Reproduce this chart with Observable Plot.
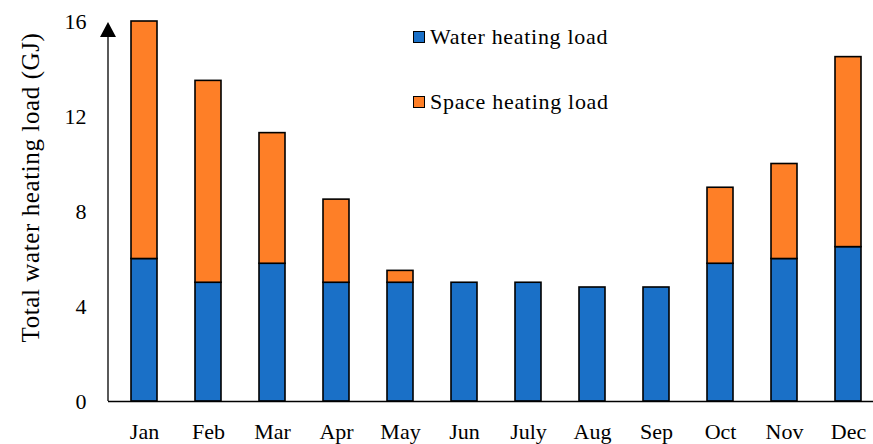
<!DOCTYPE html>
<html>
<head>
<meta charset="utf-8">
<script src="https://cdn.jsdelivr.net/npm/d3@7"></script>
<script src="https://cdn.jsdelivr.net/npm/@observablehq/plot@0.6"></script>
<style>
  body { margin: 0; background: #fff; }
  #wrap { position: relative; width: 873px; height: 444px; font-family: "Liberation Serif", serif; }
  .legend { position: absolute; left: 413px; font-size: 22px; letter-spacing: 0.7px; display: flex; align-items: center; color: #000; }
  .sw { width: 10px; height: 10px; border: 1.6px solid #000; margin-right: 5px; }
</style>
</head>
<body>
<div id="wrap"></div>
<script>
const months = ["Jan","Feb","Mar","Apr","May","Jun","July","Aug","Sep","Oct","Nov","Dec"];
const waterLoad = [6, 5, 5.8, 5, 5, 5, 5, 4.8, 4.8, 5.8, 6, 6.5];
const spaceLoad = [10, 8.5, 5.5, 3.5, 0.5, 0, 0, 0, 0, 3.2, 4, 8];
const seriesNames = ["Water heating load", "Space heating load"];
const seriesColors = ["#1a70c7", "#fe7f27"];
const yTicks = [0, 4, 8, 12, 16];
const yLabel = "Total water heating load (GJ)";

const data = [];
months.forEach((m, i) => {
  data.push({month: m, series: seriesNames[0], value: waterLoad[i]});
  if (spaceLoad[i] > 0) data.push({month: m, series: seriesNames[1], value: spaceLoad[i]});
});

const plot = Plot.plot({
  width: 873,
  height: 444,
  marginLeft: 108,
  marginRight: 0,
  marginTop: 21,
  marginBottom: 43,
  style: {fontFamily: "Liberation Serif, serif", fontSize: "22px", color: "#000", background: "#fff", overflow: "visible"},
  x: {domain: months, range: [108, 883], paddingInner: 0.6, paddingOuter: 0.3, align: 0.5, label: null, tickSize: 0, tickPadding: 22},
  y: {domain: [0, 16], ticks: yTicks, label: null, tickSize: 0, tickPadding: 22},
  color: {domain: seriesNames, range: seriesColors},
  marks: [
    Plot.barY(data, {x: "month", y: "value", fill: "series", stroke: "#000", strokeWidth: 1.6}),
    Plot.ruleY([0], {stroke: "#000", strokeWidth: 1.3}),
    Plot.text([yLabel], {frameAnchor: "left", textAnchor: "middle", lineAnchor: "middle", rotate: -90, dx: -78, dy: -24, fontSize: 25, text: d => d, fill: "#000"})
  ]
});

const wrap = document.getElementById("wrap");
wrap.appendChild(plot);

const svg = d3.select(plot);
svg.selectAll('g[aria-label="text"] text').attr("letter-spacing", "0.6px");

// y axis line with arrowhead, positioned from the y scale
const ys = plot.scale("y");
const y0 = ys.apply(0), yTop = ys.apply(16) + 1;
svg.append("line").attr("x1", 108).attr("x2", 108).attr("y1", y0).attr("y2", yTop + 10)
  .attr("stroke", "#000").attr("stroke-width", 1.3);
svg.append("path").attr("d", `M108,${yTop} L100,${yTop + 15} L116,${yTop + 15} Z`).attr("fill", "#000");

// legend
seriesNames.forEach((name, i) => {
  const div = document.createElement("div");
  div.className = "legend";
  div.style.top = (i === 0 ? 24 : 89) + "px";
  div.innerHTML = `<span class="sw" style="background:${seriesColors[i]}"></span><span>${name}</span>`;
  wrap.appendChild(div);
});
</script>
</body>
</html>
